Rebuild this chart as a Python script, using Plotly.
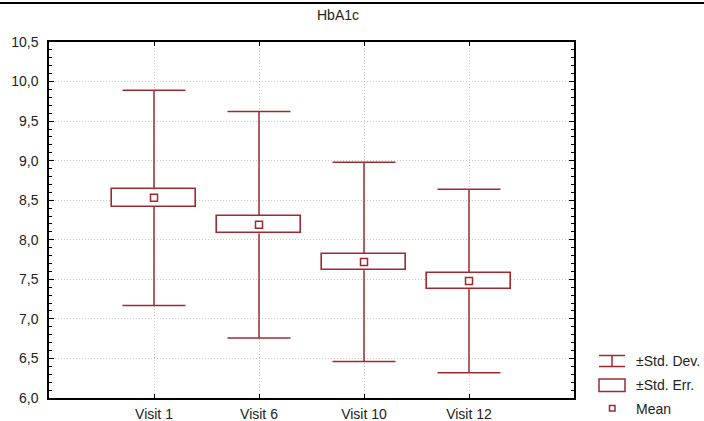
import plotly.graph_objects as go

# ---- data ----
visits = ["Visit 1", "Visit 6", "Visit 10", "Visit 12"]
means = [8.53, 8.19, 7.72, 7.48]
std_dev = [1.36, 1.43, 1.26, 1.16]
std_err = [0.11, 0.11, 0.105, 0.10]
y_ticks = [6.0, 6.5, 7.0, 7.5, 8.0, 8.5, 9.0, 9.5, 10.0, 10.5]
y_tick_labels = ["6,0", "6,5", "7,0", "7,5", "8,0", "8,5", "9,0", "9,5", "10,0", "10,5"]
title = "HbA1c"
legend_labels = ["±Std. Dev.", "±Std. Err.", "Mean"]

RED = "#9E2A30"
FONT = "Liberation Sans, Arial, sans-serif"
FS = 14

W, H = 704, 421
L, R, T, B = 49, 574, 42, 398  # plot area in pixels

xs = list(range(1, len(visits) + 1))
box_w = 0.8
cap_w = 0.6

fig = go.Figure()

# whiskers (from box edge to SD limit) and caps
wx, wy = [], []
for x, m, sd, se in zip(xs, means, std_dev, std_err):
    wx += [x, x, None, x, x, None]
    wy += [m + se, m + sd, None, m - se, m - sd, None]
    wx += [x - cap_w / 2, x + cap_w / 2, None, x - cap_w / 2, x + cap_w / 2, None]
    wy += [m + sd, m + sd, None, m - sd, m - sd, None]
fig.add_trace(go.Scatter(x=wx, y=wy, mode="lines", line=dict(color=RED, width=1.5),
                         hoverinfo="skip", showlegend=False))

# std. error boxes
fig.add_trace(go.Bar(
    x=xs, y=[2 * s for s in std_err], base=[m - s for m, s in zip(means, std_err)],
    width=box_w, marker=dict(color="white", line=dict(color=RED, width=1.6)),
    showlegend=False))

# means
fig.add_trace(go.Scatter(x=xs, y=means, mode="markers",
                         marker=dict(symbol="square-open", size=7, color=RED,
                                     line=dict(color=RED, width=1.5)),
                         showlegend=False))

def px_x(p):
    return (p - L) / (R - L)

def px_y(p):
    return (B - p) / (B - T)

shapes = []
# top border line of image
shapes.append(dict(type="line", xref="paper", yref="paper",
                   x0=px_x(0), x1=px_x(W), y0=px_y(3), y1=px_y(3),
                   line=dict(color="black", width=2)))
# legend symbols
shapes += [
    dict(type="line", xref="paper", yref="paper", x0=px_x(599), x1=px_x(625),
         y0=px_y(355.5), y1=px_y(355.5), line=dict(color=RED, width=1.5)),
    dict(type="line", xref="paper", yref="paper", x0=px_x(599), x1=px_x(625),
         y0=px_y(366.5), y1=px_y(366.5), line=dict(color=RED, width=1.5)),
    dict(type="line", xref="paper", yref="paper", x0=px_x(612), x1=px_x(612),
         y0=px_y(355.5), y1=px_y(366.5), line=dict(color=RED, width=1.5)),
    dict(type="rect", xref="paper", yref="paper", x0=px_x(599), x1=px_x(625),
         y0=px_y(379), y1=px_y(391.5), line=dict(color=RED, width=1.5)),
    dict(type="rect", xref="paper", yref="paper", x0=px_x(609.5), x1=px_x(615),
         y0=px_y(405.5), y1=px_y(411), line=dict(color=RED, width=1.5)),
]

annotations = []
for lab, ypx in zip(legend_labels, [361, 385, 409]):
    annotations.append(dict(text=lab, xref="paper", yref="paper", x=px_x(634), y=px_y(ypx),
                            xanchor="left", yanchor="middle", showarrow=False,
                            font=dict(family=FONT, size=FS, color="#222")))
annotations.append(dict(text=title, xref="paper", yref="paper", x=px_x(338), y=px_y(15),
                        xanchor="center", yanchor="middle", showarrow=False,
                        font=dict(family=FONT, size=FS, color="#222")))

fig.update_layout(
    width=W, height=H,
    margin=dict(l=L, r=W - R, t=T, b=H - B, pad=0),
    paper_bgcolor="white", plot_bgcolor="white",
    font=dict(family=FONT, size=FS, color="#222"),
    shapes=shapes, annotations=annotations,
    showlegend=False, bargap=0,
    xaxis=dict(range=[0, 5], tickvals=xs, ticktext=visits, showgrid=True,
               gridcolor="#c8c8c8", griddash="1px,2px", gridwidth=1,
               showline=True, linecolor="black", linewidth=1.5, mirror="ticks",
               ticks="inside", ticklen=4, tickcolor="black", zeroline=False,
               automargin=False, ticklabelstandoff=2, fixedrange=True),
    yaxis=dict(range=[6, 10.5], tickvals=y_ticks, ticktext=y_tick_labels, showgrid=True,
               gridcolor="#c8c8c8", griddash="1px,2px", gridwidth=1,
               showline=True, linecolor="black", linewidth=1.5, mirror="ticks",
               ticks="inside", ticklen=5, tickcolor="black", zeroline=False,
               minor=dict(dtick=0.1, ticks="inside", ticklen=3, tickcolor="black",
                          showgrid=False),
               automargin=False, ticklabelstandoff=6, fixedrange=True),
)

fig.write_html("out.html", config={"displayModeBar": False},
               post_script="document.body.style.margin='0';document.body.style.overflow='hidden';")
